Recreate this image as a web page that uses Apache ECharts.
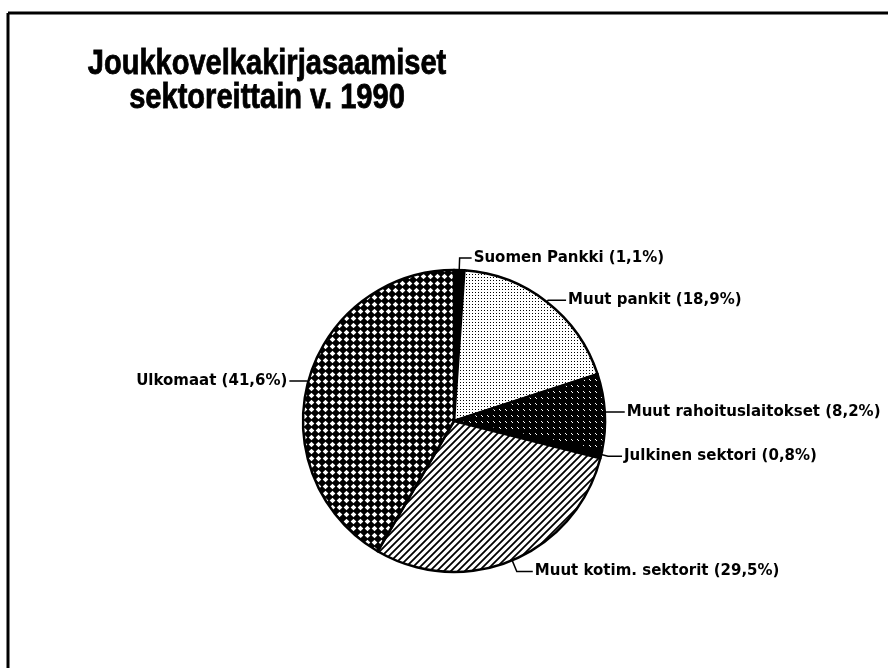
<!DOCTYPE html>
<html>
<head>
<meta charset="utf-8">
<script src="https://cdn.jsdelivr.net/npm/echarts@6/dist/echarts.min.js"></script>
<style>
  html, body { margin: 0; padding: 0; background: #fff; }
  #chart { width: 888px; height: 668px; }
</style>
</head>
<body>
<div id="chart"></div>
<script>
// data
const sectors = ['Suomen Pankki', 'Muut pankit', 'Muut rahoituslaitokset', 'Julkinen sektori', 'Muut kotim. sektorit', 'Ulkomaat'];
const shares = [1.1, 18.9, 8.2, 0.8, 29.5, 41.6];
const titleLines = ['Joukkovelkakirjasaamiset', 'sektoreittain v. 1990'];

const TITLE_FONT = '"Liberation Sans", Arial, Helvetica, sans-serif';
const LABEL_FONT = '"DejaVu Sans", "Liberation Sans", sans-serif';

function makePattern(size, draw) {
  const c = document.createElement('canvas');
  c.width = size;
  c.height = size;
  draw(c.getContext('2d'), size);
  return { image: c, repeat: 'repeat' };
}

// fill patterns, one per slice
const dots = makePattern(3, (ctx, s) => {
  ctx.fillStyle = '#fff'; ctx.fillRect(0, 0, s, s);
  ctx.fillStyle = '#000'; ctx.fillRect(1, 1, 1, 1);
});
const darkDash = makePattern(6, (ctx, s) => {
  ctx.fillStyle = '#000'; ctx.fillRect(0, 0, s, s);
  ctx.fillStyle = '#fff'; ctx.fillRect(1, 1, 1, 1); ctx.fillRect(2, 2, 1, 1);
});
const hatch = makePattern(7, (ctx, s) => {
  ctx.fillStyle = '#fff'; ctx.fillRect(0, 0, s, s);
  ctx.strokeStyle = '#000'; ctx.lineWidth = 1.8;
  ctx.beginPath();
  ctx.moveTo(-1, s + 1); ctx.lineTo(s + 1, -1);
  ctx.moveTo(-1, 1); ctx.lineTo(1, -1);
  ctx.moveTo(s - 1, s + 1); ctx.lineTo(s + 1, s - 1);
  ctx.stroke();
});
const checker = makePattern(7, (ctx, s) => {
  ctx.fillStyle = '#000'; ctx.fillRect(0, 0, s, s);
  ctx.fillStyle = '#fff';
  const m = s / 2, r = 2.8;
  ctx.beginPath();
  ctx.moveTo(m, m - r); ctx.lineTo(m + r, m); ctx.lineTo(m, m + r); ctx.lineTo(m - r, m);
  ctx.closePath();
  ctx.fill();
});
const fills = ['#000', dots, darkDash, '#000', hatch, checker];
// leader line lengths [radial, horizontal] per slice
const leaders = [[12, 12], [2, 18], [2, 18], [7, 14], [12, 16], [2, 17]];

const chart = echarts.init(document.getElementById('chart'));

const option = {
  backgroundColor: '#fff',
  animation: false,
  graphic: [
    { type: 'line', shape: { x1: 8, y1: 13, x2: 888, y2: 13 }, style: { stroke: '#000', lineWidth: 3 } },
    { type: 'line', shape: { x1: 8, y1: 13, x2: 8, y2: 668 }, style: { stroke: '#000', lineWidth: 3 } },
    {
      type: 'text', x: 267, y: 47, scaleX: 0.83,
      style: {
        text: titleLines.join('\n'),
        font: 'bold 35px ' + TITLE_FONT,
        fill: '#000',
        stroke: '#000',
        lineWidth: 0.8,
        textAlign: 'center',
        lineHeight: 34
      }
    }
  ],
  series: [{
    type: 'pie',
    center: [454, 421],
    radius: 151,
    startAngle: 90,
    clockwise: true,
    avoidLabelOverlap: false,
    emphasis: { disabled: true },
    itemStyle: { borderColor: '#000', borderWidth: 2.5 },
    label: {
      color: '#000',
      fontFamily: LABEL_FONT,
      fontWeight: 'bold',
      fontSize: 15,
      distanceToLabelLine: 2,
      formatter: p => p.name + ' (' + p.value.toFixed(1).replace('.', ',') + '%)'
    },
    labelLine: { lineStyle: { color: '#000', width: 1.5 } },
    data: sectors.map((name, i) => ({
      name: name,
      value: shares[i],
      itemStyle: { color: fills[i] },
      labelLine: { length: leaders[i][0], length2: leaders[i][1] }
    }))
  }]
};

chart.setOption(option);
</script>
</body>
</html>
